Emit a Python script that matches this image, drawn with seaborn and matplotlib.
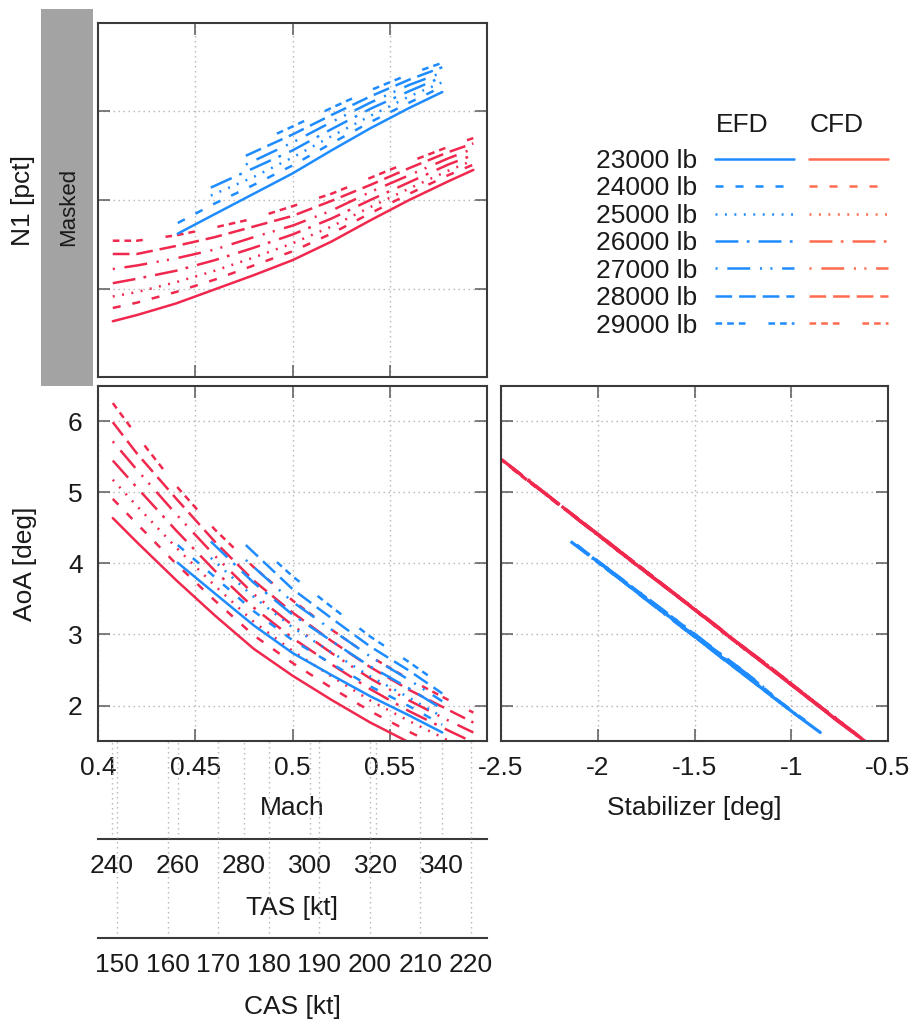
import matplotlib
matplotlib.use("Agg")
import matplotlib.pyplot as plt
import pandas as pd
import seaborn as sns
from matplotlib.lines import Line2D
from matplotlib.patches import Rectangle
from matplotlib.legend_handler import HandlerTuple

# ---- data ----
weights = ["23000 lb", "24000 lb", "25000 lb", "26000 lb",
           "27000 lb", "28000 lb", "29000 lb"]

# CFD: one Mach grid for every weight
cfd_mach = [0.4076, 0.42, 0.44, 0.46, 0.48, 0.50, 0.52, 0.54, 0.56, 0.58, 0.593]
cfd_n1 = [
    [0.63, 0.70, 0.83, 0.99, 1.15, 1.32, 1.53, 1.77, 2.00, 2.21, 2.34],
    [0.78, 0.84, 0.96, 1.10, 1.26, 1.42, 1.62, 1.85, 2.07, 2.28, 2.40],
    [0.91, 0.96, 1.07, 1.20, 1.35, 1.51, 1.70, 1.92, 2.13, 2.33, 2.45],
    [1.06, 1.11, 1.20, 1.32, 1.46, 1.61, 1.79, 2.00, 2.20, 2.40, 2.51],
    [1.22, 1.26, 1.34, 1.44, 1.58, 1.71, 1.88, 2.09, 2.28, 2.47, 2.58],
    [1.39, 1.39, 1.48, 1.58, 1.70, 1.82, 1.99, 2.17, 2.36, 2.54, 2.64],
    [1.54, 1.54, 1.60, 1.69, 1.79, 1.93, 2.07, 2.25, 2.43, 2.60, 2.70],
]
cfd_aoa = [
    [4.64, 4.30, 3.77, 3.27, 2.80, 2.42, 2.08, 1.76, 1.48, 1.22, 1.06],
    [4.91, 4.56, 4.00, 3.48, 2.99, 2.60, 2.25, 1.92, 1.63, 1.36, 1.20],
    [5.18, 4.81, 4.23, 3.69, 3.18, 2.77, 2.41, 2.07, 1.78, 1.51, 1.34],
    [5.45, 5.07, 4.47, 3.90, 3.38, 2.95, 2.58, 2.23, 1.92, 1.65, 1.48],
    [5.72, 5.32, 4.70, 4.11, 3.57, 3.13, 2.74, 2.38, 2.07, 1.79, 1.62],
    [5.99, 5.55, 4.92, 4.31, 3.76, 3.31, 2.91, 2.54, 2.22, 1.94, 1.76],
    [6.26, 5.80, 5.10, 4.48, 3.95, 3.48, 3.07, 2.69, 2.37, 2.08, 1.90],
]
cfd_stab = [
    [-2.11, -1.95, -1.70, -1.46, -1.24, -1.06, -0.90, -0.75, -0.61, -0.49, -0.42],
    [-2.24, -2.07, -1.81, -1.56, -1.33, -1.14, -0.98, -0.82, -0.68, -0.56, -0.48],
    [-2.36, -2.19, -1.92, -1.66, -1.42, -1.23, -1.05, -0.89, -0.75, -0.63, -0.55],
    [-2.49, -2.31, -2.03, -1.76, -1.51, -1.31, -1.13, -0.97, -0.82, -0.69, -0.61],
    [-2.62, -2.43, -2.14, -1.86, -1.60, -1.39, -1.21, -1.04, -0.89, -0.76, -0.68],
    [-2.75, -2.54, -2.24, -1.95, -1.69, -1.48, -1.29, -1.11, -0.96, -0.83, -0.75],
    [-2.87, -2.66, -2.33, -2.03, -1.78, -1.56, -1.37, -1.19, -1.03, -0.90, -0.81],
]

# EFD: each weight has its own Mach range
efd_mach = [
    [0.441, 0.46, 0.48, 0.50, 0.52, 0.54, 0.56, 0.577],
    [0.441, 0.46, 0.48, 0.50, 0.52, 0.54, 0.56, 0.577],
    [0.458, 0.48, 0.50, 0.52, 0.54, 0.56, 0.577],
    [0.458, 0.48, 0.50, 0.52, 0.54, 0.56, 0.577],
    [0.476, 0.50, 0.52, 0.54, 0.56, 0.577],
    [0.476, 0.50, 0.52, 0.54, 0.56, 0.577],
    [0.492, 0.50, 0.52, 0.54, 0.56, 0.577],
]
efd_n1 = [
    [1.62, 1.84, 2.07, 2.30, 2.56, 2.81, 3.04, 3.22],
    [1.74, 1.96, 2.17, 2.39, 2.64, 2.88, 3.10, 3.28],
    [2.05, 2.26, 2.48, 2.72, 2.95, 3.17, 3.33],
    [2.14, 2.36, 2.56, 2.80, 3.03, 3.23, 3.39],
    [2.40, 2.65, 2.88, 3.10, 3.30, 3.44],
    [2.50, 2.74, 2.96, 3.17, 3.36, 3.50],
    [2.75, 2.83, 3.04, 3.24, 3.42, 3.55],
]
efd_aoa = [
    [4.01, 3.58, 3.13, 2.74, 2.43, 2.13, 1.86, 1.62],
    [4.26, 3.81, 3.33, 2.92, 2.59, 2.27, 1.99, 1.73],
    [4.08, 3.53, 3.10, 2.75, 2.41, 2.11, 1.84],
    [4.31, 3.73, 3.28, 2.91, 2.55, 2.24, 1.95],
    [4.05, 3.46, 3.07, 2.69, 2.36, 2.06],
    [4.26, 3.64, 3.23, 2.83, 2.49, 2.17],
    [4.02, 3.82, 3.39, 2.97, 2.61, 2.28],
]
efd_stab = [
    [-1.99, -1.79, -1.57, -1.39, -1.24, -1.10, -0.97, -0.85],
    [-2.11, -1.90, -1.67, -1.47, -1.32, -1.16, -1.03, -0.90],
    [-2.03, -1.76, -1.56, -1.39, -1.23, -1.09, -0.96],
    [-2.14, -1.86, -1.65, -1.47, -1.30, -1.15, -1.01],
    [-2.01, -1.72, -1.53, -1.35, -1.19, -1.06],
    [-2.11, -1.81, -1.61, -1.42, -1.25, -1.11],
    [-2.00, -1.90, -1.70, -1.50, -1.32, -1.17],
]

tas_ticks = [240, 260, 280, 300, 320, 340]
cas_ticks = [150, 160, 170, 180, 190, 200, 210, 220]

# long-form table for seaborn
rows = []
for i, w in enumerate(weights):
    for m, n, a, s in zip(cfd_mach, cfd_n1[i], cfd_aoa[i], cfd_stab[i]):
        rows.append(("CFD", w, m, n, a, s))
    for m, n, a, s in zip(efd_mach[i], efd_n1[i], efd_aoa[i], efd_stab[i]):
        rows.append(("EFD", w, m, n, a, s))
df = pd.DataFrame(rows, columns=["Source", "Weight", "Mach", "N1", "AoA", "Stab"])

# ---- styles ----
blue = "#1e8cff"
red = "#f0284e"
red_legend = "#ff6b4f"
palette = {"EFD": blue, "CFD": red}
dash_map = {
    "23000 lb": "",
    "24000 lb": (5.8, 8.6),
    "25000 lb": (1.4, 5.4),
    "26000 lb": (16.5, 6, 2, 6.5),
    "27000 lb": (1.5, 7, 16.5, 7, 1.5, 6),
    "28000 lb": (12, 5),
    "29000 lb": (4.8, 3.6, 4.8, 3.6, 4.8, 16.5),
}

sns.set_theme(style="white")
plt.rcParams["font.family"] = ["Liberation Sans", "DejaVu Sans"]
plt.rcParams["lines.scale_dashes"] = False
plt.rcParams["axes.unicode_minus"] = False
plt.rcParams["text.color"] = "#1a1a1a"
plt.rcParams["xtick.color"] = "#5a5a5a"
plt.rcParams["ytick.color"] = "#5a5a5a"
plt.rcParams["xtick.labelcolor"] = "#1a1a1a"
plt.rcParams["ytick.labelcolor"] = "#1a1a1a"
plt.rcParams["axes.labelcolor"] = "#1a1a1a"

W, H = 915, 1021
fig = plt.figure(figsize=(W / 100, H / 100), dpi=100)


def fx(px):
    return px / W


def fy(py):
    return 1 - py / H


def box(x0, y0, x1, y1):
    return [fx(x0), fy(y1), fx(x1) - fx(x0), fy(y0) - fy(y1)]


ax_n1 = fig.add_axes(box(98, 23, 487, 377))
ax_aoa = fig.add_axes(box(98, 386, 487, 741))
ax_stab = fig.add_axes(box(501, 386, 888, 741))
ax_tas = fig.add_axes(box(98, 741, 487, 839))
ax_cas = fig.add_axes(box(98, 741, 487, 938))

grid_kw = dict(color="#b4b4b4", linestyle=(0, (1, 2.6)), linewidth=1.0)


def style_main(ax):
    for s in ax.spines.values():
        s.set_color("#3a3a3a")
        s.set_linewidth(1.5)
    ax.tick_params(direction="in", top=True, right=True, bottom=True, left=True,
                   length=8.5, width=1.1, pad=11, labelsize=19)
    ax.grid(True, **grid_kw)
    ax.set_axisbelow(True)


def draw(ax, y, x="Mach", lw=1.8):
    sns.lineplot(data=df, x=x, y=y, hue="Source", hue_order=["CFD", "EFD"],
                 style="Weight", style_order=weights, dashes=dash_map,
                 palette=palette, estimator=None, sort=False, legend=False,
                 linewidth=lw, ax=ax)


draw(ax_n1, "N1")
draw(ax_aoa, "AoA")
draw(ax_stab, "AoA", x="Stab", lw=2.3)

for ax in (ax_n1, ax_aoa, ax_stab):
    style_main(ax)

# top panel (values masked)
ax_n1.set_xlim(0.4, 0.6)
ax_n1.set_ylim(0, 4)
ax_n1.set_xticks([0.45, 0.5, 0.55])
ax_n1.set_yticks([1, 2, 3])
ax_n1.set_xticklabels([])
ax_n1.set_yticklabels([])
ax_n1.set_xlabel("")
ax_n1.set_ylabel("N1 [pct]", fontsize=19)
ax_n1.yaxis.set_label_coords(-0.193, 0.5)
ax_n1.yaxis.label.set_va("center")

# AoA vs Mach
ax_aoa.set_xlim(0.4, 0.6)
ax_aoa.set_ylim(1.5, 6.5)
ax_aoa.set_xticks([0.4, 0.45, 0.5, 0.55, 0.6])
ax_aoa.set_xticklabels(["0.4", "0.45", "0.5", "0.55", ""])
ax_aoa.set_yticks([2, 3, 4, 5, 6])
ax_aoa.set_yticklabels(["2", "3", "4", "5", "6"])
ax_aoa.set_xlabel("Mach", fontsize=19)
ax_aoa.xaxis.set_label_coords(0.5, -0.19)
ax_aoa.xaxis.label.set_va("center")
ax_aoa.set_ylabel("AoA [deg]", fontsize=19)
ax_aoa.yaxis.set_label_coords(-0.188, 0.5)
ax_aoa.yaxis.label.set_va("center")

# AoA vs stabilizer
ax_stab.set_xlim(-2.5, -0.5)
ax_stab.set_ylim(1.5, 6.5)
ax_stab.set_xticks([-2.5, -2, -1.5, -1, -0.5])
ax_stab.set_xticklabels(["-2.5", "-2", "-1.5", "-1", "-0.5"])
ax_stab.set_yticks([2, 3, 4, 5, 6])
ax_stab.set_yticklabels([])
ax_stab.set_ylabel("")
ax_stab.set_xlabel("Stabilizer [deg]", fontsize=19)
ax_stab.xaxis.set_label_coords(0.5, -0.19)
ax_stab.xaxis.label.set_va("center")

# extra speed axes under the Mach panel
for ax, lim, ticks, label, ly in (
        (ax_tas, (235.8, 353.7), tas_ticks, "TAS [kt]", -0.70),
        (ax_cas, (146.2, 223.2), cas_ticks, "CAS [kt]", -0.35)):
    ax.set_facecolor("none")
    for side in ("top", "left", "right"):
        ax.spines[side].set_visible(False)
    ax.spines["bottom"].set_color("#3a3a3a")
    ax.spines["bottom"].set_linewidth(1.5)
    ax.set_xlim(*lim)
    ax.set_xticks(ticks)
    ax.set_xticklabels([str(t) for t in ticks])
    ax.set_yticks([])
    ax.tick_params(axis="x", direction="in", length=8.5, width=1.1, pad=11,
                   labelsize=19)
    ax.grid(True, axis="x", **grid_kw)
    ax.set_xlabel(label, fontsize=19)
    ax.xaxis.set_label_coords(0.5, ly)
    ax.xaxis.label.set_va("center")

# grey "Masked" bar
fig.add_artist(Rectangle((fx(41), fy(386)), fx(93) - fx(41), fy(9) - fy(386),
                         transform=fig.transFigure, facecolor="#a3a3a3",
                         edgecolor="none"))
fig.text(fx(69), fy(207), "Masked", rotation=90, ha="center", va="center",
         fontsize=16)

# legend: label, EFD sample, CFD sample
handles = []
for w in weights:
    hb = Line2D([], [], color=blue, lw=1.8, dashes=dash_map[w])
    hr = Line2D([], [], color=red_legend, lw=1.8, dashes=dash_map[w])
    handles.append((hb, hr))
fig.legend(handles, weights, handler_map={tuple: HandlerTuple(ndivide=None, pad=0.57)},
           markerfirst=False, handlelength=6.55, handletextpad=0.68,
           labelspacing=0.13, frameon=False, fontsize=19,
           loc="upper right", bbox_to_anchor=(fx(888), fy(149)),
           bbox_transform=fig.transFigure, borderpad=0, borderaxespad=0)
fig.text(fx(716), fy(125), "EFD", ha="left", va="center", fontsize=19)
fig.text(fx(810), fy(125), "CFD", ha="left", va="center", fontsize=19)

fig.savefig("out.png", dpi=100)
